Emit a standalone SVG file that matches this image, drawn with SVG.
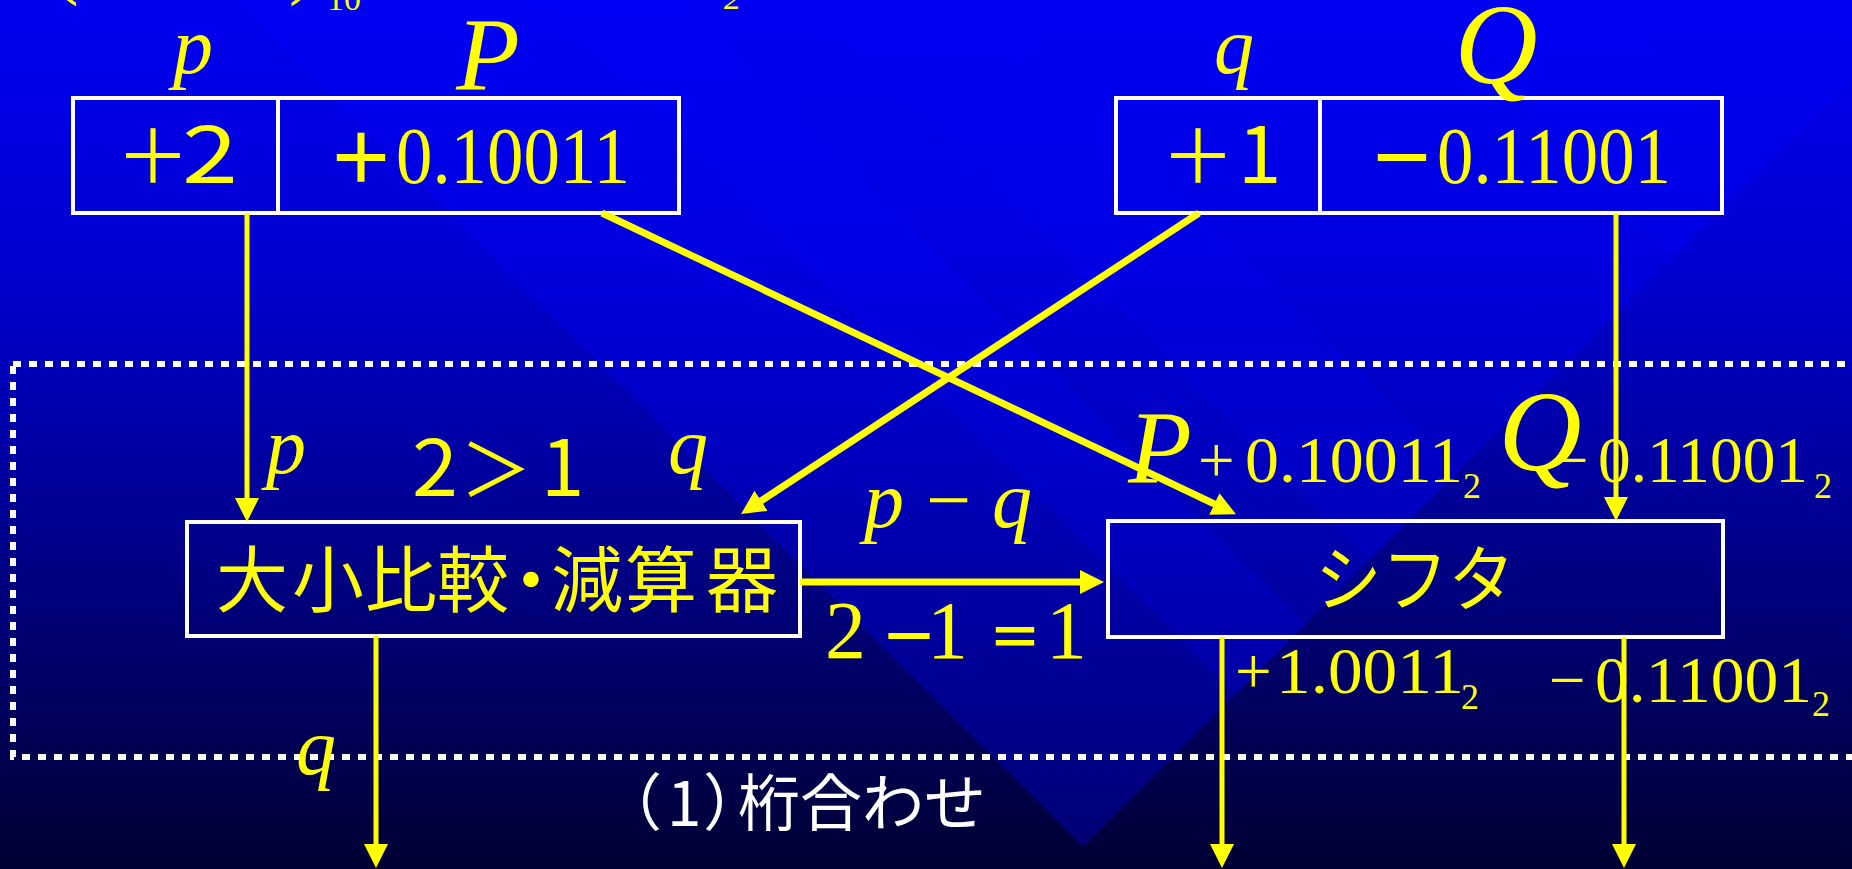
<svg xmlns="http://www.w3.org/2000/svg" width="1852" height="869" viewBox="0 0 1852 869">
<defs>
<linearGradient id="bg" x1="0" y1="0" x2="0" y2="1">
<stop offset="0" stop-color="#0000F0"/>
<stop offset="0.3" stop-color="#0000D2"/>
<stop offset="0.5" stop-color="#0000A8"/>
<stop offset="0.7" stop-color="#00007A"/>
<stop offset="0.87" stop-color="#000050"/>
<stop offset="1" stop-color="#000034"/>
</linearGradient>
<clipPath id="tri"><polygon points="235,0 1930,0 1083,847"/></clipPath>
<marker id="ah" markerUnits="userSpaceOnUse" markerWidth="26" markerHeight="26" refX="14" refY="12" orient="auto">
<path d="M0,0 L24,12 L0,24 Z" fill="#FFFF00"/>
</marker>
<style>
.box{fill:none;stroke:#FFFFFF;stroke-width:4}
.it{font-family:"Liberation Serif",serif;font-style:italic;fill:#FFFF00}
.num{font-family:"Liberation Serif","Noto Sans CJK JP",serif;fill:#FFFF00}
.goth{font-family:"Noto Sans CJK JP",sans-serif;fill:#FFFF00;font-weight:400}
.gm{font-family:"Noto Sans CJK JP",sans-serif;font-weight:400}
.gb{font-family:"Noto Sans CJK JP",sans-serif;font-weight:700}
.gw{font-family:"Noto Sans CJK JP",sans-serif;fill:#FFFFFF}
.conn line{stroke:#FFFF00;fill:none}
.lite{fill:#0000FF}
</style>
</defs>

<g id="background">
<rect x="0" y="0" width="1852" height="869" fill="url(#bg)"/>
<g clip-path="url(#tri)">
<polygon class="lite" opacity="0.3" points="235,0 1930,0 1083,847"/>
<polygon class="lite" opacity="0.2" points="541,0 682,0 1582,900 1441,900"/>
<polygon class="lite" opacity="0.15" points="809,0 988,0 1888,900 1709,900"/>
<polygon class="lite" opacity="0.14" points="1417,0 1600,0 2500,900 2317,900"/>
</g>
</g>

<g id="top-fragments">
<text class="num" x="52" y="-11" font-size="80">(</text>
<text class="num" x="289" y="-11" font-size="80">)</text>
<text class="num" x="327" y="10" font-size="34">10</text>
<text class="it" x="724" y="9" font-size="34">2</text>
</g>

<g id="node-p-exp">
<rect class="box" x="73" y="98" width="205" height="115"/>
<text class="num" y="183"><tspan class="gm" x="116" font-size="74">＋</tspan><tspan class="gm" x="182" font-size="78" textLength="56" lengthAdjust="spacingAndGlyphs">2</tspan></text>
</g>
<g id="node-p-mant">
<rect class="box" x="278" y="98" width="401" height="115"/>
<text class="num" y="183"><tspan class="gb" x="327" font-size="68">＋</tspan><tspan x="396" font-size="80" textLength="234" lengthAdjust="spacingAndGlyphs">0.10011</tspan></text>
</g>
<g id="node-q-exp">
<rect class="box" x="1116" y="98" width="204" height="115"/>
<text class="num" y="183"><tspan class="gm" x="1161" font-size="74">＋</tspan><tspan class="gm" x="1238" font-size="78">1</tspan></text>
</g>
<g id="node-q-mant">
<rect class="box" x="1320" y="98" width="402" height="115"/>
<text class="num" y="183"><tspan class="gb" x="1368" font-size="68">－</tspan><tspan x="1437" font-size="80" textLength="234" lengthAdjust="spacingAndGlyphs">0.11001</tspan></text>
</g>

<g id="node-compare">
<rect class="box" x="187" y="522" width="613" height="114"/>
<text class="goth" y="606" font-size="72" x="216 292 365 437 495 551 625 706">大小比較・減算器</text>
</g>
<g id="node-shifter">
<rect class="box" x="1108" y="521" width="615" height="116"/>
<text class="goth" x="1415" y="605" font-size="72" text-anchor="middle" textLength="200" lengthAdjust="spacingAndGlyphs">シフタ</text>
</g>

<g id="region-align">
<rect x="13" y="364" width="1900" height="393" fill="none" stroke="#FFFFFF" stroke-width="6" stroke-dasharray="8 8"/>
<text class="gw" y="826" font-size="62" x="600 667 703 738">（1）桁合わせ</text>
</g>

<g id="labels">
<text class="it" x="193" y="73" font-size="80" text-anchor="middle">p</text>
<text class="it" x="488" y="90" font-size="104" text-anchor="middle">P</text>
<text class="it" x="1234" y="73" font-size="80" text-anchor="middle">q</text>
<text class="it" x="1496" y="83" font-size="115" text-anchor="middle">Q</text>

<text class="it" x="286" y="473" font-size="80" text-anchor="middle">p</text>
<text class="goth" y="496" font-size="78"><tspan x="412" textLength="46" lengthAdjust="spacingAndGlyphs">2</tspan><tspan x="460" font-size="72">＞</tspan><tspan x="541">1</tspan></text>
<text class="it" x="688" y="473" font-size="80" text-anchor="middle">q</text>

<text class="num" y="527" font-size="80"><tspan class="it" x="864">p</tspan><tspan x="926">−</tspan><tspan class="it" x="992">q</tspan></text>
<text class="num" y="658" font-size="82"><tspan x="825">2</tspan><tspan class="gb" x="880" font-size="58">－</tspan><tspan x="927">1</tspan><tspan class="gb" x="988" font-size="54">＝</tspan><tspan x="1046">1</tspan></text>

<text class="it" x="1160" y="483" font-size="104" text-anchor="middle">P</text>
<text class="num" y="482" font-size="65"><tspan x="1198">+</tspan><tspan x="1245" textLength="218" lengthAdjust="spacingAndGlyphs">0.10011</tspan><tspan x="1463" y="498" font-size="36">2</tspan></text>
<text class="it" x="1540" y="470" font-size="115" text-anchor="middle">Q</text>
<text class="num" y="482" font-size="65"><tspan x="1552">−</tspan><tspan x="1598" textLength="210" lengthAdjust="spacingAndGlyphs">0.11001</tspan><tspan x="1814" y="498" font-size="36">2</tspan></text>

<text class="num" y="693" font-size="65"><tspan x="1235">+</tspan><tspan x="1276" textLength="188" lengthAdjust="spacingAndGlyphs">1.0011</tspan><tspan x="1461" y="709" font-size="36">2</tspan></text>
<text class="num" y="702" font-size="65"><tspan x="1549">−</tspan><tspan x="1595" textLength="217" lengthAdjust="spacingAndGlyphs">0.11001</tspan><tspan x="1812" y="716" font-size="36">2</tspan></text>

<text class="it" x="316" y="774" font-size="80" text-anchor="middle">q</text>
</g>

<g id="connectors" class="conn">
<line x1="247" y1="213" x2="247" y2="512" stroke-width="5" marker-end="url(#ah)"/>
<line x1="602" y1="213" x2="1227" y2="510" stroke-width="7" marker-end="url(#ah)"/>
<line x1="1199" y1="213" x2="749.4" y2="508.5" stroke-width="7" marker-end="url(#ah)"/>
<line x1="1616" y1="213" x2="1616" y2="511" stroke-width="5" marker-end="url(#ah)"/>
<line x1="800" y1="582" x2="1094" y2="582" stroke-width="7" marker-end="url(#ah)"/>
<line x1="376" y1="636" x2="376" y2="858" stroke-width="5" marker-end="url(#ah)"/>
<line x1="1222" y1="637" x2="1222" y2="858" stroke-width="5" marker-end="url(#ah)"/>
<line x1="1624" y1="637" x2="1624" y2="858" stroke-width="5" marker-end="url(#ah)"/>
</g>
</svg>
